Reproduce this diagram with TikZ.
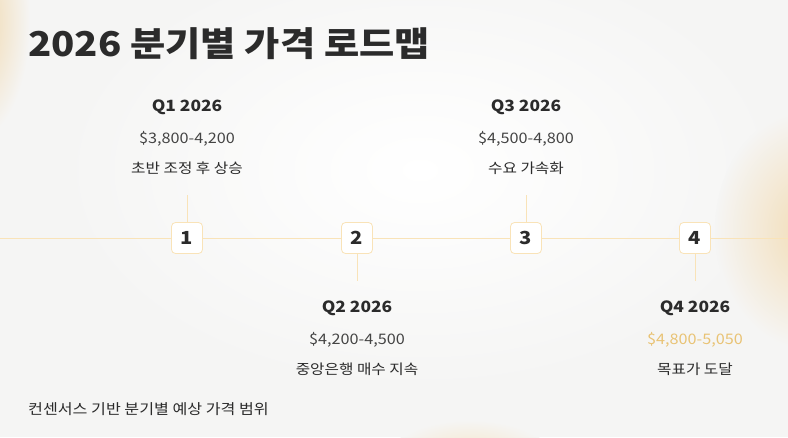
\documentclass[tikz,border=0pt]{standalone}
\usepackage{fontspec}
\setmainfont{Noto Sans CJK KR}[FakeStretch=1.12]
\usetikzlibrary{positioning}
\definecolor{bgc}{HTML}{F5F5F4}
\definecolor{gold}{HTML}{F0D6A8}
\definecolor{lineY}{HTML}{F9E3B8}
\definecolor{txt}{HTML}{2B2B2B}
\definecolor{sub}{HTML}{444444}
\definecolor{pricegold}{HTML}{E9C374}
\tikzset{
  x=1pt, y=-1pt,
  numbox/.style={draw=lineY, line width=0.8pt, fill=white, rounded corners=4pt, minimum width=31pt, minimum height=31pt, inner sep=0pt, font=\fontsize{18}{18}\selectfont\bfseries, text=txt},
  qlabel/.style={font=\fontsize{15.5}{16}\selectfont\bfseries, text=txt, anchor=base},
  price/.style={font=\fontsize{14.5}{15}\selectfont, text=sub, anchor=base},
  desc/.style={font=\fontsize{14}{14}\selectfont, text=txt, anchor=base},
  tline/.style={draw=lineY, line width=1pt}
}
\begin{document}
\begin{tikzpicture}
\useasboundingbox (0,0) rectangle (788,437);
\fill[bgc] (0,0) rectangle (788,437);
\begin{scope}
\clip (0,0) rectangle (788,437);
\shade[inner color=white, outer color=bgc] (420,170) ellipse (360 and 220);
\shade[inner color=gold, outer color=bgc] (-25,20) ellipse (55 and 120);
\shade[inner color=gold!85, outer color=bgc] (810,230) ellipse (95 and 120);
\shade[inner color=gold!60, outer color=bgc] (470,455) ellipse (80 and 35);
\end{scope}
% title
\node[anchor=base west, inner sep=0pt, font=\fontsize{34.2}{34}\selectfont\bfseries, text=txt] (title) at (28,56) {2026 분기별 가격 로드맵};
% timeline
\coordinate (L) at (0,238);
\coordinate (R) at (788,238);
\draw[tline] (L) -- (R);
\node[numbox] (b1) at (187,238) {1};
\node[numbox] (b2) at (357,238) {2};
\node[numbox] (b3) at (526,238) {3};
\node[numbox] (b4) at (695,238) {4};
\coordinate (c1) at (187,195);
\coordinate (c2) at (357,281);
\coordinate (c3) at (526,195);
\coordinate (c4) at (695,281);
\draw[tline] (b1.north) -- (c1);
\draw[tline] (b2.south) -- (c2);
\draw[tline] (b3.north) -- (c3);
\draw[tline] (b4.south) -- (c4);
% Q1
\node[qlabel] (q1) at (187,111) {Q1 2026};
\node[price] (p1) at (187,143) {\$3,800-4,200};
\node[desc] (d1) at (187,173) {초반 조정 후 상승};
% Q3
\node[qlabel] (q3) at (526,111) {Q3 2026};
\node[price] (p3) at (526,143) {\$4,500-4,800};
\node[desc] (d3) at (526,173) {수요 가속화};
% Q2
\node[qlabel] (q2) at (357,312) {Q2 2026};
\node[price] (p2) at (357,344) {\$4,200-4,500};
\node[desc] (d2) at (357,374) {중앙은행 매수 지속};
% Q4
\node[qlabel] (q4) at (695,312) {Q4 2026};
\node[price, text=pricegold] (p4) at (695,344) {\$4,800-5,050};
\node[desc] (d4) at (695,374) {목표가 도달};
% footer
\node[anchor=base west, inner sep=0pt, font=\fontsize{14.4}{14}\selectfont, text=txt] (foot) at (28,414) {컨센서스 기반 분기별 예상 가격 범위};
\end{tikzpicture}
\end{document}
